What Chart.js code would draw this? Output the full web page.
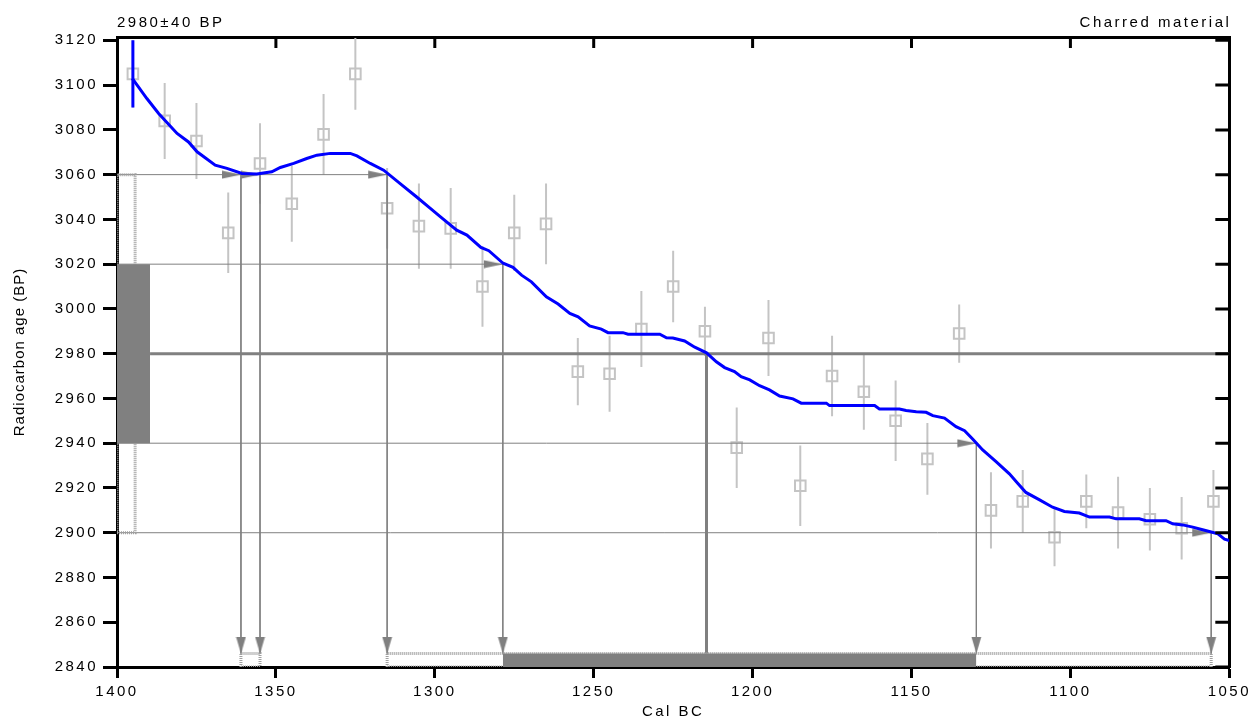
<!DOCTYPE html>
<html>
<head>
<meta charset="utf-8">
<script src="https://cdn.jsdelivr.net/npm/chart.js@4/dist/chart.umd.min.js"></script>
<style>
  html, body { margin: 0; padding: 0; background: #fff; }
  canvas { display: block; }
</style>
</head>
<body>
<canvas id="chart" width="1251" height="719"></canvas>
<script>
// calibration curve (cal BC -> radiocarbon age BP)
const curveCalBC = [1395.2, 1390.6, 1386.9, 1381.1, 1377.5, 1374.8, 1369.1, 1365.4, 1360.7, 1356, 1351.3, 1348.6,
  1344.4, 1340.3, 1337.1, 1332.9, 1326.6, 1324.5, 1320.3, 1316.1, 1310.9, 1305.7, 1301.5, 1298.3, 1293.1, 1289.9,
  1285.5, 1283, 1278.5, 1275.4, 1272.7, 1269.6, 1264.9, 1261.2, 1257.5, 1254.9, 1251.3, 1247.6, 1245.5, 1240.8,
  1239.2, 1229.2, 1227.1, 1225.1, 1221.4, 1218.2, 1214.5, 1211.4, 1208.8, 1205.7, 1203.6, 1200.9, 1197.8, 1194.7,
  1191.5, 1187.3, 1184.7, 1176.8, 1175.8, 1161.6, 1160.1, 1153.8, 1151.7, 1148.5, 1145.4, 1143.3, 1139.6, 1136,
  1133.3, 1130.7, 1127.6, 1123.4, 1119.2, 1116.6, 1114, 1109.7, 1105.6, 1101.9, 1097.2, 1094, 1087.7, 1085.6,
  1078.3, 1076.2, 1069.9, 1067.8, 1064.7, 1061.5, 1058.4, 1055.7, 1053.6, 1051.5, 1050]
const curveBP = [3103, 3094, 3087.3, 3078.4, 3074.6, 3070.2, 3064.2, 3062.8, 3060.5, 3060.3, 3061.3, 3063.2,
  3065, 3067.2, 3068.7, 3069.5, 3069.5, 3068.4, 3065, 3062, 3056, 3050, 3045, 3041.2, 3035.2, 3033,
  3027.5, 3026, 3020.4, 3018.6, 3015.1, 3012.1, 3005.4, 3002.2, 2998, 2996.5, 2992.4, 2991, 2989.4, 2989.4,
  2988.7, 2988.7, 2987.1, 2987, 2985.7, 2982.9, 2980.4, 2976.4, 2973.8, 2972, 2969.7, 2968.3, 2965.7, 2963.8,
  2961.1, 2959.8, 2957.9, 2957.9, 2956.8, 2956.8, 2955.3, 2955.3, 2954.6, 2954.1, 2953.8, 2952.3, 2951.2, 2947.4,
  2945.6, 2941.8, 2937, 2931.8, 2926.3, 2922.1, 2918, 2914.7, 2911.4, 2909.5, 2908.8, 2907, 2907, 2906.2,
  2906.2, 2905.4, 2905.4, 2904, 2903.5, 2902.5, 2901.3, 2900.3, 2899.5, 2897.1, 2896.5]

// raw curve measurements with their errors
const sampleCalBC = [1395, 1385, 1375, 1365, 1355, 1345, 1335, 1325, 1315, 1305, 1295, 1285, 1275, 1265, 1255,
  1245, 1235, 1225, 1215, 1205, 1195, 1185, 1175, 1165, 1155, 1145, 1135, 1125, 1115, 1105, 1095, 1085, 1075, 1065, 1055]
const sampleBP = [3105, 3084, 3075, 3034, 3065, 3047, 3078, 3105, 3045, 3037, 3036, 3010, 3034, 3038, 2972,
  2971, 2991, 3010, 2990, 2938, 2987, 2921, 2970, 2963, 2950, 2933, 2989, 2910, 2914, 2898, 2914, 2909, 2906, 2902, 2914]
const sampleErr = [15, 17, 17, 18, 18, 17, 18, 16, 18, 19, 18, 18, 17, 18, 15,
  17, 17, 16, 11, 18, 17, 18, 18, 17, 18, 16, 13, 17, 14, 13, 12, 16, 14, 14, 14]

// the dated sample
const measuredBP = 2980
const measuredErr = 40
const sampleMaterial = 'Charred material'

// where the sigma levels cross the curve
const crossBP = [3060, 3060, 3060, 3020, 2940, 2900]
const crossCalBC = [1361, 1355, 1315, 1278.6, 1129.6, 1055.7]
const interceptCalBC = 1214.5
const oneSigmaCalBC = [[1278.6, 1129.6]]
const twoSigmaCalBC = [[1361, 1355], [1315, 1055.7]]

// axes
const xTickValues = [1400, 1350, 1300, 1250, 1200, 1150, 1100, 1050]
const yTickValues = [2840, 2860, 2880, 2900, 2920, 2940, 2960, 2980, 3000, 3020, 3040, 3060, 3080, 3100, 3120]

const X_MIN = 1050, X_MAX = 1400, Y_MIN = 2840, Y_MAX = 3121.5
const BAR_TOP = 2846          // height of the range bars at the bottom
const BOX1_RIGHT = 1389.6     // right edge of the 1 sigma box on the age axis
const BOX2_RIGHT = 1394.3     // right edge of the 2 sigma box
const GREY = '#808080'
const LIGHT = '#c4c4c4'
const DOTTED = '#a0a0a0'
const font = { family: '"Liberation Sans", Arial, sans-serif', size: 15 }

const oneSigma = [measuredBP - measuredErr, measuredBP + measuredErr]
const twoSigma = [measuredBP - 2 * measuredErr, measuredBP + 2 * measuredErr]

const pt = (x, y) => ({ x, y })
const gap = { x: null, y: null }
const rect = (x0, x1, y0, y1) => [pt(x0, y0), pt(x1, y0), pt(x1, y1), pt(x0, y1), pt(x0, y0), gap]

const makeArrow = (dir) => {
  const c = document.createElement('canvas')
  const g = c.getContext('2d')
  if (dir === 'right') {
    c.width = 40; c.height = 9
    g.fillStyle = GREY
    g.beginPath(); g.moveTo(1, 0.5); g.lineTo(20, 4.5); g.lineTo(1, 8.5); g.closePath(); g.fill()
  } else {
    c.width = 11; c.height = 34
    g.fillStyle = GREY
    g.beginPath(); g.moveTo(0.5, 0); g.lineTo(5.5, 17); g.lineTo(10.5, 0); g.closePath(); g.fill()
  }
  return c
}

// reading lines: horizontal to the last crossing of each level, then down to the bars
const levels = [...new Set(crossBP)]
const hLines = levels.flatMap(bp => {
  const end = Math.min(...crossCalBC.filter((c, i) => crossBP[i] === bp))
  return [pt(X_MAX, bp), pt(end, bp), gap]
})
const vLines = crossCalBC.flatMap((c, i) => [pt(c, crossBP[i]), pt(c, BAR_TOP), gap])

const errorBars = sampleCalBC.flatMap((c, i) => [pt(c, sampleBP[i] - sampleErr[i]), pt(c, sampleBP[i] + sampleErr[i]), gap])

const datasets = [
  {
    label: 'curve', order: 0,
    data: curveCalBC.map((c, i) => pt(c, curveBP[i])),
    borderColor: '#0000ff', borderWidth: 3, pointRadius: 0, tension: 0
  },
  {
    label: 'curve start', order: 0,
    data: [pt(sampleCalBC[0], sampleBP[0] - sampleErr[0]), pt(sampleCalBC[0], sampleBP[0] + sampleErr[0])],
    borderColor: '#0000ff', borderWidth: 3, pointRadius: 0
  },
  {
    label: 'arrows right', order: 1, showLine: false, clip: false,
    data: crossCalBC.map((c, i) => pt(c, crossBP[i])),
    pointStyle: makeArrow('right'), pointRadius: 1
  },
  {
    label: 'arrows down', order: 1, showLine: false, clip: false,
    data: crossCalBC.map(c => pt(c, BAR_TOP)),
    pointStyle: makeArrow('down'), pointRadius: 1
  },
  {
    label: '1 sigma box', order: 2,
    data: [pt(X_MAX, oneSigma[1]), pt(BOX1_RIGHT, oneSigma[1])],
    borderWidth: 0, pointRadius: 0, backgroundColor: GREY, fill: { value: oneSigma[0] }
  },
  ...oneSigmaCalBC.map(([a, b]) => ({
    label: '1 sigma range', order: 2,
    data: [pt(a, BAR_TOP), pt(b, BAR_TOP)],
    borderWidth: 0, pointRadius: 0, backgroundColor: GREY, fill: { value: Y_MIN }
  })),
  {
    label: '2 sigma outlines', order: 3,
    data: [...rect(X_MAX, BOX2_RIGHT, twoSigma[0], twoSigma[1]), ...twoSigmaCalBC.flatMap(([a, b]) => rect(a, b, Y_MIN, BAR_TOP))],
    borderColor: DOTTED, borderWidth: 3, borderDash: [1, 1], pointRadius: 0, spanGaps: false
  },
  {
    label: 'intercept', order: 4,
    data: [pt(BOX1_RIGHT, measuredBP), pt(X_MIN, measuredBP), gap, pt(interceptCalBC, measuredBP), pt(interceptCalBC, BAR_TOP)],
    borderColor: GREY, borderWidth: 3, pointRadius: 0, spanGaps: false
  },
  {
    label: 'reading lines', order: 4,
    data: [...hLines, ...vLines],
    borderColor: GREY, borderWidth: 1, pointRadius: 0, spanGaps: false
  },
  {
    label: 'samples', order: 5, showLine: false,
    data: sampleCalBC.map((c, i) => pt(c, sampleBP[i])),
    pointStyle: 'rect', pointRadius: 7.5, pointBorderWidth: 2,
    pointBorderColor: LIGHT, pointBackgroundColor: 'rgba(0,0,0,0)'
  },
  {
    label: 'sample errors', order: 6,
    data: errorBars,
    borderColor: LIGHT, borderWidth: 2, pointRadius: 0, spanGaps: false
  }
]

const decorations = {
  id: 'decorations',
  beforeDraw(chart) {
    chart.ctx.letterSpacing = '2.5px'
  },
  afterDraw(chart) {
    const { ctx, chartArea: a, scales: { x, y } } = chart
    ctx.save()
    // inward ticks on the top and right frame
    ctx.strokeStyle = '#000'
    ctx.lineWidth = 3
    ctx.beginPath()
    xTickValues.slice(1, -1).forEach(v => {
      const px = x.getPixelForValue(v)
      ctx.moveTo(px, a.top); ctx.lineTo(px, a.top + 11)
    })
    yTickValues.forEach(v => {
      const py = y.getPixelForValue(v)
      ctx.moveTo(a.right, py); ctx.lineTo(a.right - 14, py)
    })
    ctx.stroke()

    ctx.fillStyle = '#000'
    ctx.font = `${font.size}px ${font.family}`
    ctx.textBaseline = 'middle'
    ctx.textAlign = 'left'
    ctx.fillText(`${measuredBP}±${measuredErr} BP`, a.left, a.top - 14)
    ctx.textAlign = 'right'
    ctx.fillText(sampleMaterial, a.right + 2, a.top - 14)

    ctx.letterSpacing = '1px'
    ctx.translate(20, (a.top + a.bottom) / 2)
    ctx.rotate(-Math.PI / 2)
    ctx.textAlign = 'center'
    ctx.fillText('Radiocarbon age (BP)', 0, 0)
    ctx.restore()
  }
}

const frame = { color: '#000', width: 3 }

new Chart(document.getElementById('chart'), {
  type: 'line',
  data: { datasets },
  plugins: [decorations],
  options: {
    responsive: false,
    devicePixelRatio: 1,
    animation: false,
    layout: { padding: 0 },
    plugins: { legend: { display: false }, tooltip: { enabled: false } },
    scales: {
      x: {
        type: 'linear', position: 'bottom', reverse: true, min: X_MIN, max: X_MAX,
        afterBuildTicks: s => { s.ticks = xTickValues.map(value => ({ value })) },
        afterFit: s => { s.height = 52 },
        ticks: { callback: v => String(v), color: '#000', font, padding: 5, maxRotation: 0, autoSkip: false },
        grid: { drawOnChartArea: false, tickLength: 11, tickWidth: 3, tickColor: '#000' },
        border: frame,
        title: { display: true, text: 'Cal BC', color: '#000', font: { ...font, lineHeight: 1 }, padding: 0 }
      },
      x2: {
        type: 'linear', position: 'top', reverse: true, min: X_MIN, max: X_MAX,
        afterFit: s => { s.height = 37 },
        ticks: { display: false }, grid: { display: false }, border: frame
      },
      y: {
        type: 'linear', position: 'left', min: Y_MIN, max: Y_MAX,
        afterBuildTicks: s => { s.ticks = yTickValues.map(value => ({ value })) },
        afterFit: s => { s.width = 117 },
        ticks: { callback: v => String(v), color: '#000', font, padding: 5 },
        grid: { drawOnChartArea: false, tickLength: 14, tickWidth: 3, tickColor: '#000' },
        border: frame
      },
      y2: {
        type: 'linear', position: 'right', min: Y_MIN, max: Y_MAX,
        afterFit: s => { s.width = 21 },
        ticks: { display: false }, grid: { display: false }, border: frame
      }
    }
  }
})
</script>
</body>
</html>
